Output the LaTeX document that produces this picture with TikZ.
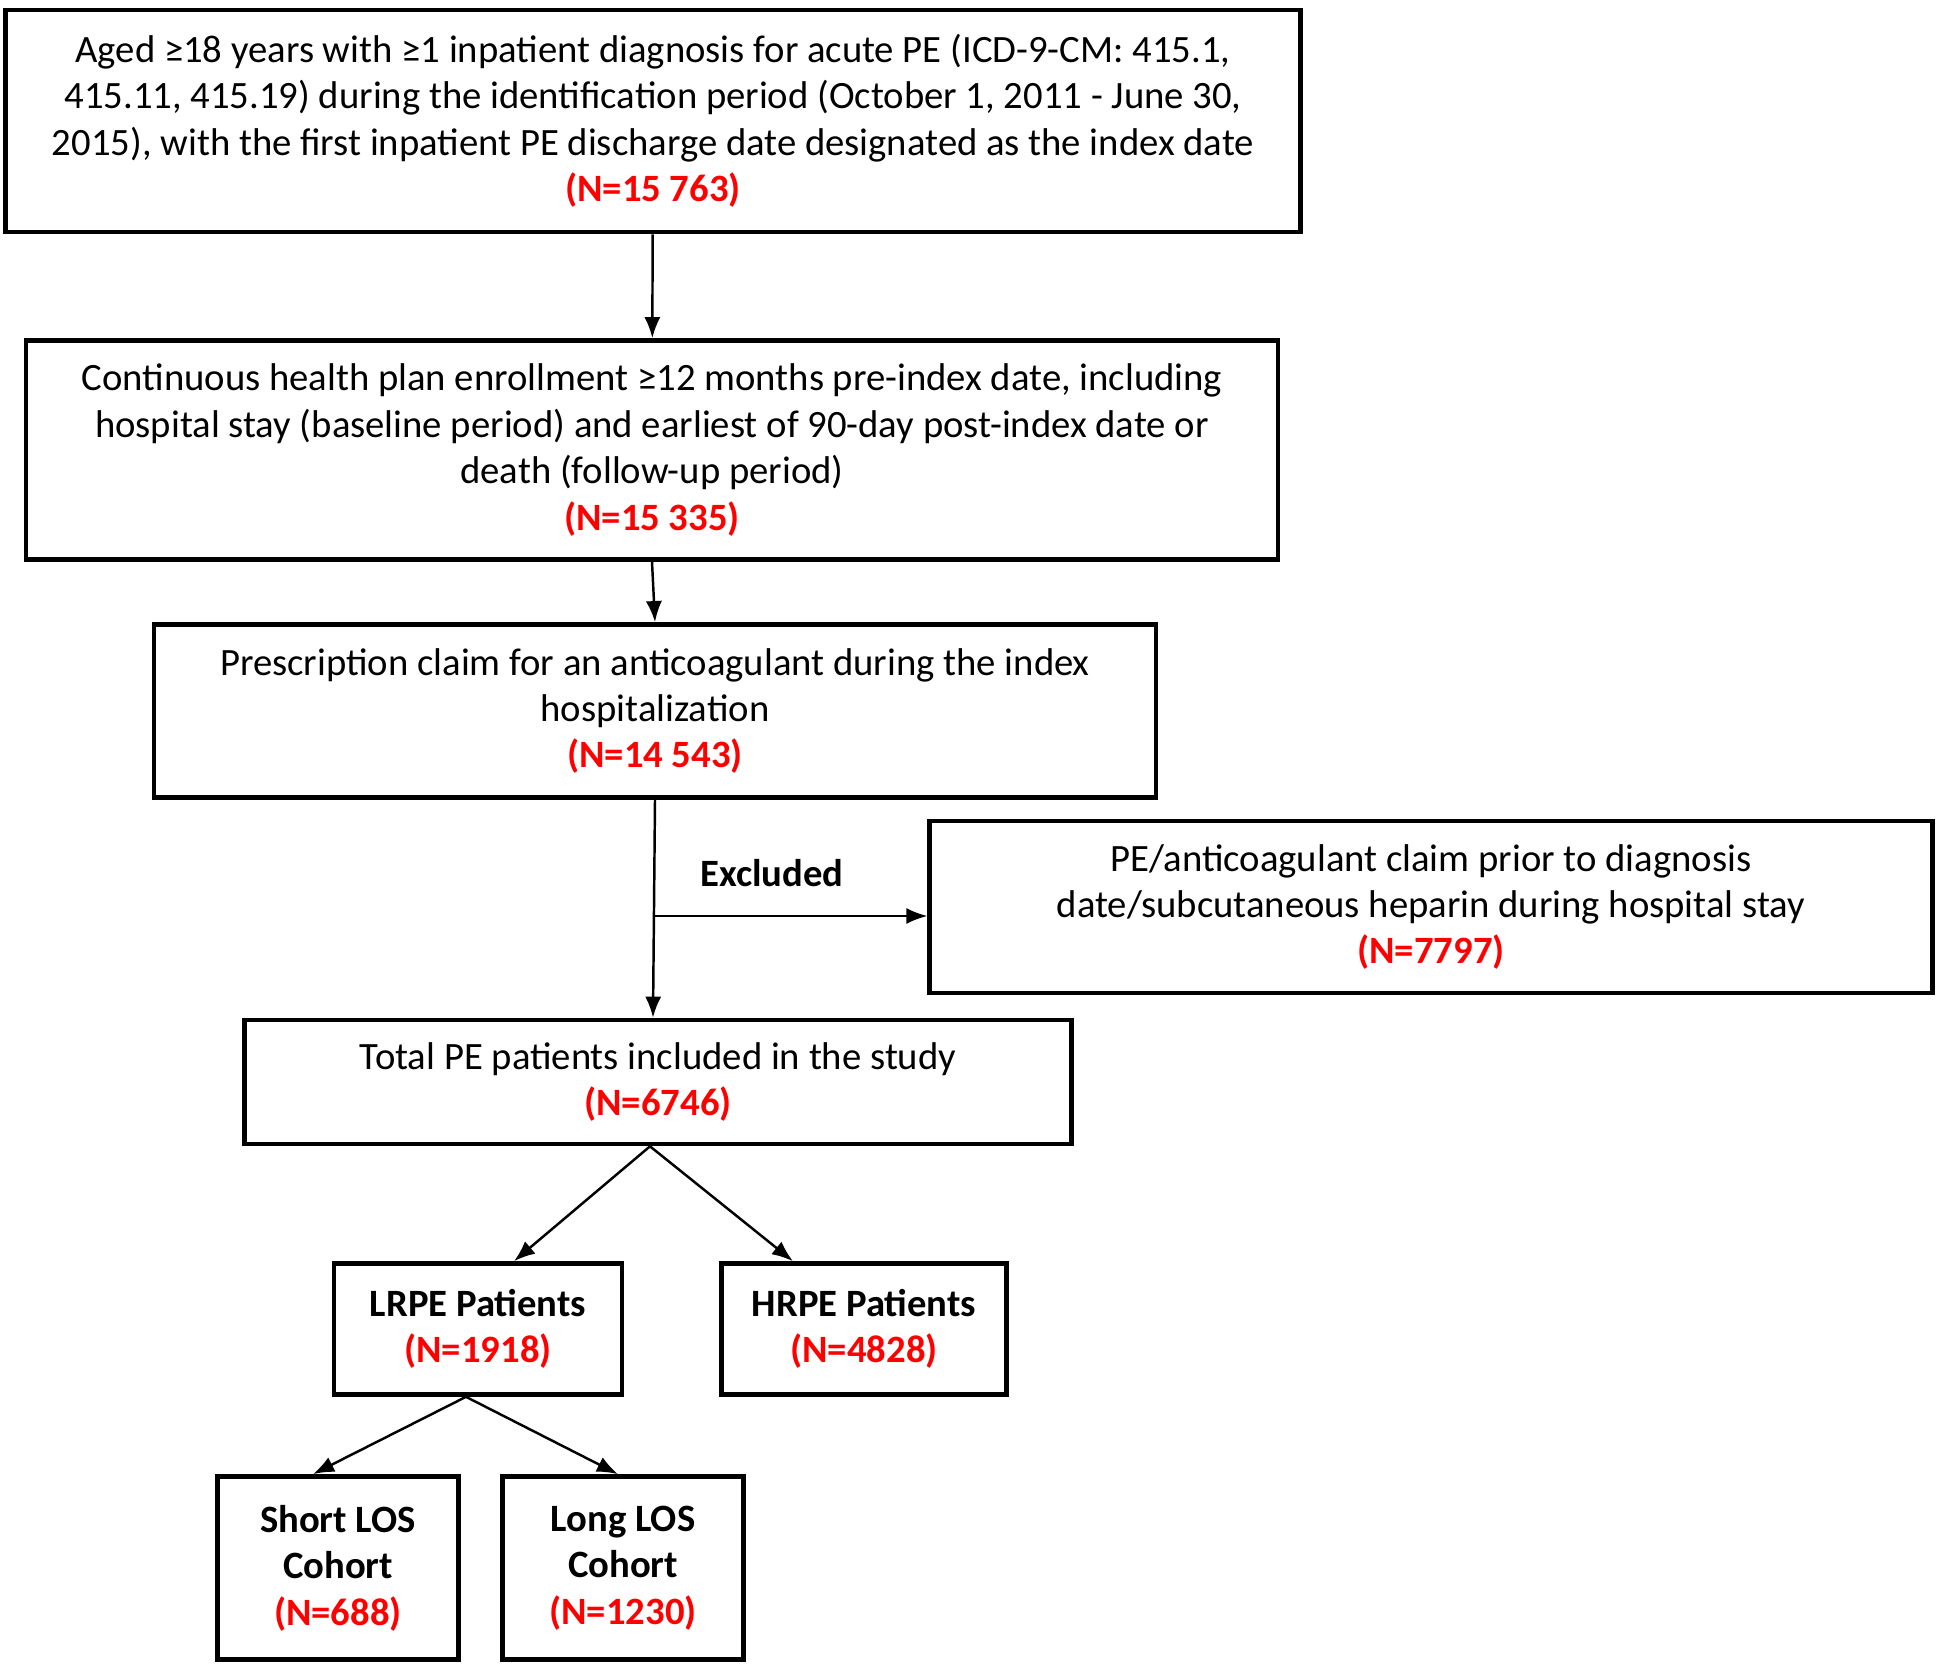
\documentclass[tikz,border=0pt]{standalone}
\usepackage{fontspec}
\setmainfont{Carlito}
\usetikzlibrary{arrows.meta}
\newcommand{\nval}[1]{{\color{red}\bfseries (N=#1)}}

\begin{document}
\begin{tikzpicture}[x=0.01cm, y=-0.01cm,
    box/.style={draw, line width=1.3pt, align=center, inner sep=0pt, font=\fontsize{11}{13.2}\selectfont},
    arr/.style={->, >={Latex[length=6pt,width=4.6pt]}, line width=0.7pt}]

  \useasboundingbox (0,0) rectangle (1942,1667);

  % selection steps
  \node [box, minimum width=12.94cm, minimum height=2.22cm] (aged) at (653,121)
    {Aged ≥18 years with ≥1 inpatient diagnosis for acute PE (ICD-9-CM: 415.1,\\
     415.11, 415.19) during the identification period (October 1, 2011 - June 30,\\
     2015), with the first inpatient PE discharge date designated as the index date\\
     \nval{15~763}};

  \node [box, minimum width=12.51cm, minimum height=2.19cm] (enroll) at (652,450)
    {Continuous health plan enrollment ≥12 months pre-index date, including\\
     hospital stay (baseline period) and earliest of 90-day post-index date or\\
     death (follow-up period)\\
     \nval{15~335}};

  \node [box, minimum width=10.01cm, minimum height=1.73cm] (rx) at (655,711)
    {Prescription claim for an anticoagulant during the index\\
     hospitalization\\
     \nval{14~543}};

  \node [box, minimum width=10.02cm, minimum height=1.72cm] (excl) at (1431,907)
    {PE/anticoagulant claim prior to diagnosis\\
     date/subcutaneous heparin during hospital stay\\
     \nval{7797}};

  \node [box, minimum width=8.26cm, minimum height=1.24cm] (total) at (658,1082)
    {Total PE patients included in the study\\
     \nval{6746}};

  % risk groups
  \node [box, minimum width=2.88cm, minimum height=1.31cm] (lrpe) at (478,1329)
    {\bfseries LRPE Patients\\ \nval{1918}};
  \node [box, minimum width=2.85cm, minimum height=1.31cm] (hrpe) at (864,1329)
    {\bfseries HRPE Patients\\ \nval{4828}};

  \node [box, minimum width=2.41cm, minimum height=1.83cm] (short) at (338,1568)
    {\bfseries Short LOS\\ \bfseries Cohort\\ \nval{688}};
  \node [box, minimum width=2.41cm, minimum height=1.83cm] (long) at (623,1568)
    {\bfseries Long LOS\\ \bfseries Cohort\\ \nval{1230}};

  \node [font=\fontsize{11}{13.2}\selectfont\bfseries] (exlabel) at (772,873) {Excluded};

  \coordinate (split) at (rx.south |- 0,916);

  \draw [arr] (aged) -- (enroll);
  \draw [arr] (enroll.south) -- (rx.north);
  \draw [arr] (rx.south) -- ([xshift=-0.05cm]total.north);
  \draw [arr] (split) -- (split -| excl.west);

  \draw [arr] ([xshift=-0.08cm]total.south) -- ([xshift=0.36cm]lrpe.north);
  \draw [arr] ([xshift=-0.08cm]total.south) -- ([xshift=-0.71cm]hrpe.north);

  \draw [arr] ([xshift=-0.12cm]lrpe.south) -- ([xshift=-0.25cm]short.north);
  \draw [arr] ([xshift=-0.12cm]lrpe.south) -- ([xshift=-0.05cm]long.north);

\end{tikzpicture}
\end{document}
